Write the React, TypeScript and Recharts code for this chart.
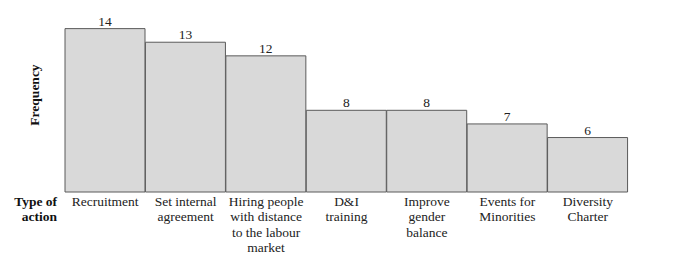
import { BarChart, Bar, XAxis, YAxis, LabelList } from "recharts";

const actions = [
  "Recruitment",
  "Set internal\nagreement",
  "Hiring people\nwith distance\nto the labour\nmarket",
  "D&I\ntraining",
  "Improve\ngender\nbalance",
  "Events for\nMinorities",
  "Diversity\nCharter",
];
const frequency = [14, 13, 12, 8, 8, 7, 6];

const data = actions.map((name, i) => ({ name, value: frequency[i] }));

const serif = "'Liberation Serif', 'Times New Roman', serif";

const ActionTick = (props: any) => {
  const { x, y, payload } = props;
  const lines = String(payload.value).split("\n");
  return (
    <text x={x} y={y} textAnchor="middle" fontFamily={serif} fontSize={13.5} fill="#222">
      {lines.map((l: string, i: number) => (
        <tspan key={i} x={x} dy={i === 0 ? 6 : 15.3}>
          {l}
        </tspan>
      ))}
    </text>
  );
};

const App = () => {
  return (
    <div style={{ position: "absolute", left: 0, top: 0, width: 675, height: 275, background: "#fff" }}>
      <BarChart
        width={675}
        height={275}
        data={data}
        barCategoryGap={0}
        margin={{ top: 15, right: 47, bottom: 0, left: 65 }}
      >
        <XAxis
          dataKey="name"
          axisLine={false}
          tickLine={false}
          height={83}
          interval={0}
          tick={<ActionTick />}
        />
        <YAxis hide domain={[2, 15]} width={0} />
        <Bar dataKey="value" fill="#d9d9d9" stroke="#5a5a5a" strokeWidth={1} isAnimationActive={false}>
          <LabelList dataKey="value" position="top" offset={3} fontFamily={serif} fontSize={13.5} fill="#222" />
        </Bar>
      </BarChart>
      <div
        style={{
          position: "absolute",
          left: 0,
          top: 194,
          width: 57,
          textAlign: "right",
          fontFamily: serif,
          fontWeight: "bold",
          fontSize: 13.5,
          lineHeight: "15px",
          color: "#111",
        }}
      >
        Type of
        <br />
        action
      </div>
      <div
        style={{
          position: "absolute",
          left: 35,
          top: 95,
          transform: "translate(-50%, -50%) rotate(-90deg)",
          fontFamily: serif,
          fontWeight: "bold",
          fontSize: 13.5,
          color: "#111",
          whiteSpace: "nowrap",
        }}
      >
        Frequency
      </div>
    </div>
  );
};

export default App;
